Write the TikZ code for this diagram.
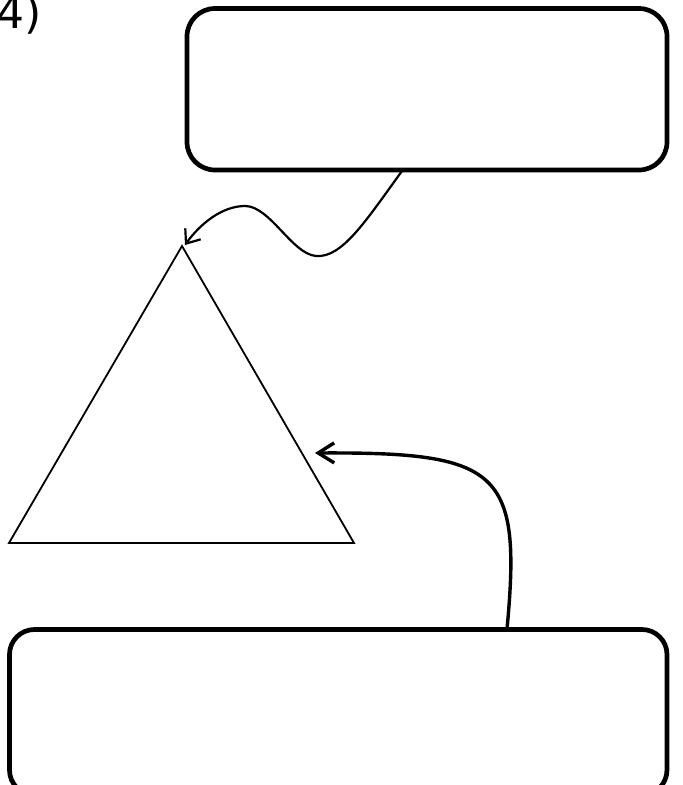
\documentclass[tikz,border=0pt]{standalone}
\usepackage{fontspec}
\newfontfamily\lblfont{DejaVu Sans}
\usetikzlibrary{arrows.meta}
\begin{document}
\begin{tikzpicture}[x=1pt,y=-1pt,
  roundbox/.style={draw=black, line width=4.7pt, rounded corners=28pt, inner sep=0pt, outer sep=0pt, fill=none},
  tri/.style={draw=black, line width=1.8pt, line join=miter},
  thinarrow/.style={draw=black, line width=2.2pt, -{Straight Barb[length=12pt,width=19pt,line width=2.2pt]}},
  thickarrow/.style={draw=black, line width=3.4pt, -{Straight Barb[length=16pt,width=20pt,line width=3.4pt]}},
  lbl/.style={anchor=base west, inner sep=0pt, font=\lblfont\fontsize{44}{46}\selectfont}
]
\useasboundingbox (0,0) rectangle (683,785);
\fill[white] (0,0) rectangle (683,785);
\begin{scope}
\clip (0,0) rectangle (683,785);
\node[lbl] (label) at (-4,28) {4)};
\node[roundbox, minimum width=480pt, minimum height=161.5pt] (topbox) at (427,89.25) {};
\node[roundbox, minimum width=657.5pt, minimum height=165.5pt, rounded corners=25pt] (botbox) at (338.25,712.25) {};
\coordinate (apex) at (182,246);
\coordinate (bl) at (9,543);
\coordinate (br) at (354,543);
\draw[tri] (apex) -- (bl) -- (br) -- cycle;
\coordinate (s1) at (402,171);
\coordinate (trough) at (316,256);
\coordinate (peak) at (245,206);
\coordinate (t1) at (185,245);
\draw[thinarrow] (s1) .. controls (365,222) and (342,258) .. (trough)
  .. controls (292,254) and (270,206) .. (peak)
  .. controls (222,206) and (200,224) .. (t1);
\coordinate (s2) at (507,629);
\coordinate (t2) at (315,453);
\draw[thickarrow] (s2) .. controls (522,470) and (500,452) .. (t2);
\end{scope}
\end{tikzpicture}
\end{document}
